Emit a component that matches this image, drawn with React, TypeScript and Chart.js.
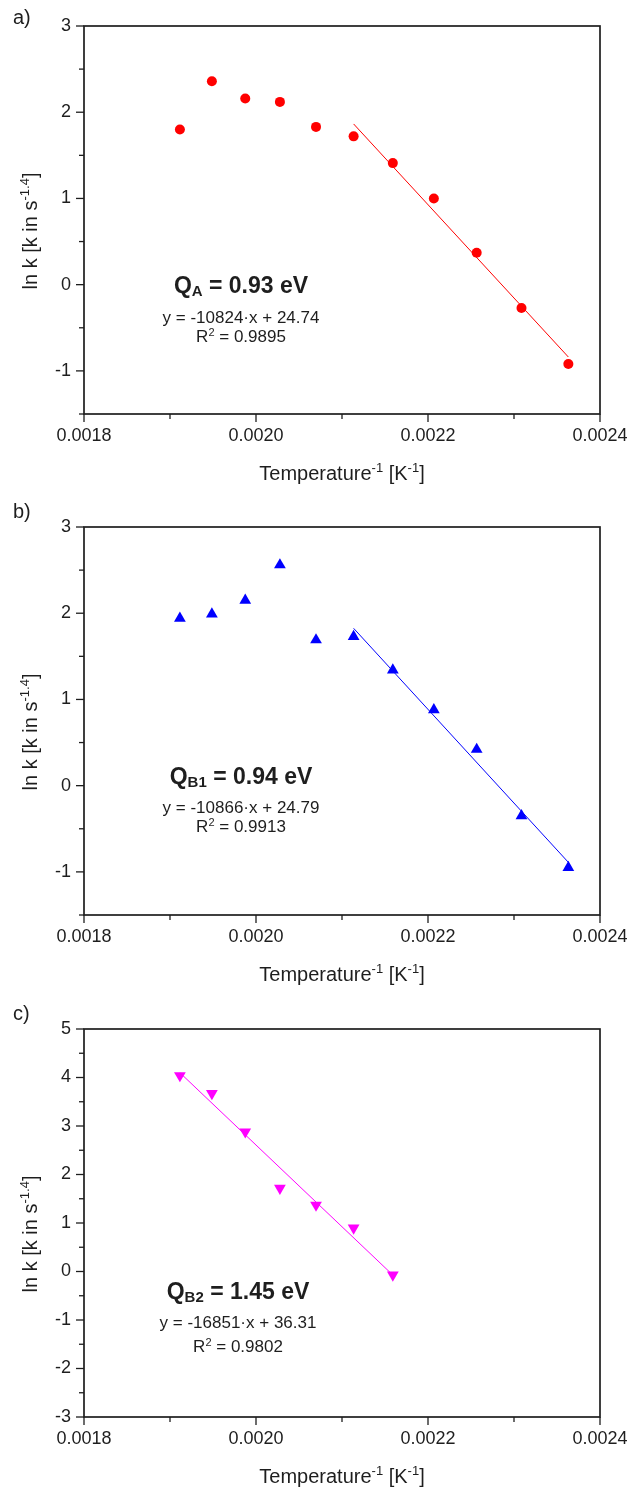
import React, { useEffect, useRef } from "react";
import { Chart, registerables } from "chart.js";

Chart.register(...registerables);

// ---- data ----
const invTemp = [0.0019115, 0.0019487, 0.0019875, 0.0020278, 0.0020698, 0.0021135, 0.0021591, 0.0022068, 0.0022566, 0.0023087, 0.0023632];
const lnkA = [1.80, 2.36, 2.16, 2.12, 1.83, 1.72, 1.41, 1.00, 0.37, -0.27, -0.92];
const lnkB1 = [1.94, 1.99, 2.15, 2.56, 1.69, 1.73, 1.34, 0.88, 0.42, -0.35, -0.95];
const invTempB2 = [0.0019115, 0.0019487, 0.0019875, 0.0020278, 0.0020698, 0.0021135, 0.0021591];
const lnkB2 = [4.04, 3.67, 2.88, 1.72, 1.37, 0.90, -0.07];

const fitAX = [0.0021135, 0.0023632];
const fitAY = [1.864, -0.839];
const fitB1X = [0.0021135, 0.0023632];
const fitB1Y = [1.825, -0.889];
const fitB2X = [0.0019115, 0.0021591];
const fitB2Y = [4.099, -0.073];

const xTicks = [0.0018, 0.0020, 0.0022, 0.0024];
const yTicksAB = [-1, 0, 1, 2, 3];
const yTicksC = [-3, -2, -1, 0, 1, 2, 3, 4, 5];

const FONT = "'Liberation Sans', Arial, Helvetica, sans-serif";
const INK = "#1e1e1e";

type Panel = {
  label: string;
  offset: number;
  height: number;
  xs: number[];
  ys: number[];
  fx: number[];
  fy: number[];
  color: string;
  style: string;
  rotation: number;
  radius: number;
  yMin: number;
  yMax: number;
  yTicks: number[];
  qMain: string;
  qSub: string;
  qRest: string;
  eq: string;
  r2: string;
  annX: number;
  annY: number[];
  labelY: number;
};

const panels: Panel[] = [
  {
    label: "a)", offset: 0, height: 501, xs: invTemp, ys: lnkA, fx: fitAX, fy: fitAY,
    color: "#ff0000", style: "circle", rotation: 0, radius: 5,
    yMin: -1.5, yMax: 3, yTicks: yTicksAB,
    qMain: "Q", qSub: "A", qRest: " = 0.93 eV", eq: "y = -10824\u00b7x + 24.74", r2: "0.9895",
    annX: 241, annY: [287, 318, 337], labelY: 24,
  },
  {
    label: "b)", offset: 501, height: 502, xs: invTemp, ys: lnkB1, fx: fitB1X, fy: fitB1Y,
    color: "#0000ff", style: "triangle", rotation: 0, radius: 6.8,
    yMin: -1.5, yMax: 3, yTicks: yTicksAB,
    qMain: "Q", qSub: "B1", qRest: " = 0.94 eV", eq: "y = -10866\u00b7x + 24.79", r2: "0.9913",
    annX: 241, annY: [277, 307, 326], labelY: 17,
  },
  {
    label: "c)", offset: 1003, height: 489, xs: invTempB2, ys: lnkB2, fx: fitB2X, fy: fitB2Y,
    color: "#ff00ff", style: "triangle", rotation: 180, radius: 6.8,
    yMin: -3, yMax: 5, yTicks: yTicksC,
    qMain: "Q", qSub: "B2", qRest: " = 1.45 eV", eq: "y = -16851\u00b7x + 36.31", r2: "0.9802",
    annX: 238, annY: [290, 320, 344], labelY: 17,
  },
];

function drawSegments(ctx: CanvasRenderingContext2D, segs: { t: string; f: string; dy: number }[], x: number, y: number, align: "center" | "left") {
  let total = 0;
  for (const s of segs) { ctx.font = s.f; total += ctx.measureText(s.t).width; }
  let cx = align === "center" ? x - total / 2 : x;
  ctx.textAlign = "left";
  for (const s of segs) {
    ctx.font = s.f;
    ctx.fillText(s.t, cx, y + s.dy);
    cx += ctx.measureText(s.t).width;
  }
  return total;
}

const decorPlugin = {
  id: "decor",
  afterDraw(chart: any, _args: any, opts: any) {
    const p: Panel = opts.panel;
    const { ctx, chartArea: ca, scales } = chart;
    ctx.save();
    // frame
    ctx.strokeStyle = INK;
    ctx.lineWidth = 1.7;
    ctx.strokeRect(ca.left, ca.top, ca.right - ca.left, ca.bottom - ca.top);
    // y ticks (major + minor)
    ctx.lineWidth = 1.3;
    for (let v = p.yMin; v <= p.yMax + 1e-9; v += 0.5) {
      const py = scales.y.getPixelForValue(v);
      const len = Math.abs(v - Math.round(v)) < 1e-9 ? 8 : 5;
      ctx.beginPath();
      ctx.moveTo(ca.left - len, py);
      ctx.lineTo(ca.left, py);
      ctx.stroke();
    }
    // x ticks
    const xs0 = xTicks[0];
    const xs1 = xTicks[xTicks.length - 1];
    const half = (xTicks[1] - xTicks[0]) / 2;
    for (let i = 0; xs0 + i * half <= xs1 + 1e-12; i++) {
      const v = xs0 + i * half;
      const px = scales.x.getPixelForValue(v);
      const len = i % 2 === 0 ? 8 : 5;
      ctx.beginPath();
      ctx.moveTo(px, ca.bottom);
      ctx.lineTo(px, ca.bottom + len);
      ctx.stroke();
    }
    ctx.fillStyle = INK;
    ctx.textBaseline = "alphabetic";
    // panel label
    ctx.font = `20px ${FONT}`;
    ctx.textAlign = "left";
    ctx.fillText(p.label, 13, p.labelY);
    // x title
    const xSegs = [
      { t: "Temperature", f: `20px ${FONT}`, dy: 0 },
      { t: "-1", f: `13px ${FONT}`, dy: -8 },
      { t: " [K", f: `20px ${FONT}`, dy: 0 },
      { t: "-1", f: `13px ${FONT}`, dy: -8 },
      { t: "]", f: `20px ${FONT}`, dy: 0 },
    ];
    drawSegments(ctx, xSegs, 342, ca.bottom + 66, "center");
    // y title
    ctx.save();
    ctx.translate(37, 231);
    ctx.rotate(-Math.PI / 2);
    const ySegs = [
      { t: "ln k [k in s", f: `20px ${FONT}`, dy: 0 },
      { t: "-1.4", f: `13px ${FONT}`, dy: -8 },
      { t: "]", f: `20px ${FONT}`, dy: 0 },
    ];
    drawSegments(ctx, ySegs, 0, 0, "center");
    ctx.restore();
    // annotation
    ctx.textBaseline = "middle";
    const qSegs = [
      { t: p.qMain, f: `bold 23px ${FONT}`, dy: 0 },
      { t: p.qSub, f: `bold 15px ${FONT}`, dy: 5 },
      { t: p.qRest, f: `bold 23px ${FONT}`, dy: 0 },
    ];
    drawSegments(ctx, qSegs, p.annX, p.annY[0], "center");
    ctx.font = `17px ${FONT}`;
    ctx.textAlign = "center";
    ctx.fillText(p.eq, p.annX, p.annY[1]);
    const rSegs = [
      { t: "R", f: `17px ${FONT}`, dy: 0 },
      { t: "2", f: `11px ${FONT}`, dy: -4 },
      { t: " = " + p.r2, f: `17px ${FONT}`, dy: 0 },
    ];
    drawSegments(ctx, rSegs, p.annX, p.annY[2], "center");
    ctx.restore();
  },
};

function PanelChart({ p }: { p: Panel }) {
  const ref = useRef<HTMLCanvasElement | null>(null);
  useEffect(() => {
    if (!ref.current) return;
    const plotBottom = 414;
    const chart = new Chart(ref.current, {
      type: "scatter",
      data: {
        datasets: [
          {
            data: p.xs.map((x, i) => ({ x, y: p.ys[i] })),
            backgroundColor: p.color,
            borderColor: p.color,
            borderWidth: 0,
            pointStyle: p.style as any,
            pointRotation: p.rotation,
            pointRadius: p.radius,
            showLine: false,
          },
          {
            data: p.fx.map((x, i) => ({ x, y: p.fy[i] })),
            borderColor: p.color,
            borderWidth: 1,
            pointRadius: 0,
            showLine: true,
          },
        ],
      },
      options: {
        responsive: false,
        animation: false,
        events: [],
        layout: { padding: { top: 26, right: 33, left: 0, bottom: 0 } },
        plugins: {
          legend: { display: false },
          tooltip: { enabled: false },
          decor: { panel: p },
        } as any,
        scales: {
          x: {
            type: "linear",
            min: xTicks[0],
            max: xTicks[xTicks.length - 1],
            afterBuildTicks: (s: any) => { s.ticks = xTicks.map((v) => ({ value: v })); },
            afterFit: (s: any) => { s.height = p.height - plotBottom; },
            grid: { display: false, drawTicks: true, tickLength: 8 },
            border: { display: false },
            ticks: {
              color: INK,
              font: { size: 18, family: FONT },
              padding: 3,
              maxRotation: 0,
              autoSkip: false,
              callback: (v: any) => Number(v).toFixed(4),
            },
          },
          y: {
            type: "linear",
            min: p.yMin,
            max: p.yMax,
            afterBuildTicks: (s: any) => { s.ticks = p.yTicks.map((v) => ({ value: v })); },
            afterFit: (s: any) => { s.width = 84; },
            grid: { display: false, drawTicks: true, tickLength: 8 },
            border: { display: false },
            ticks: {
              color: INK,
              font: { size: 18, family: FONT },
              padding: 5,
              autoSkip: false,
              callback: (v: any) => String(v),
            },
          },
        },
      },
      plugins: [decorPlugin as any],
    });
    return () => chart.destroy();
  }, [p]);
  return (
    <canvas
      ref={ref}
      width={633}
      height={p.height}
      style={{ position: "absolute", left: 0, top: p.offset, width: 633, height: p.height, display: "block" }}
    />
  );
}

export default function App() {
  return (
    <div style={{ position: "absolute", left: 0, top: 0, width: 633, height: 1492, background: "#ffffff" }}>
      {panels.map((p) => (
        <PanelChart key={p.label} p={p} />
      ))}
    </div>
  );
}
